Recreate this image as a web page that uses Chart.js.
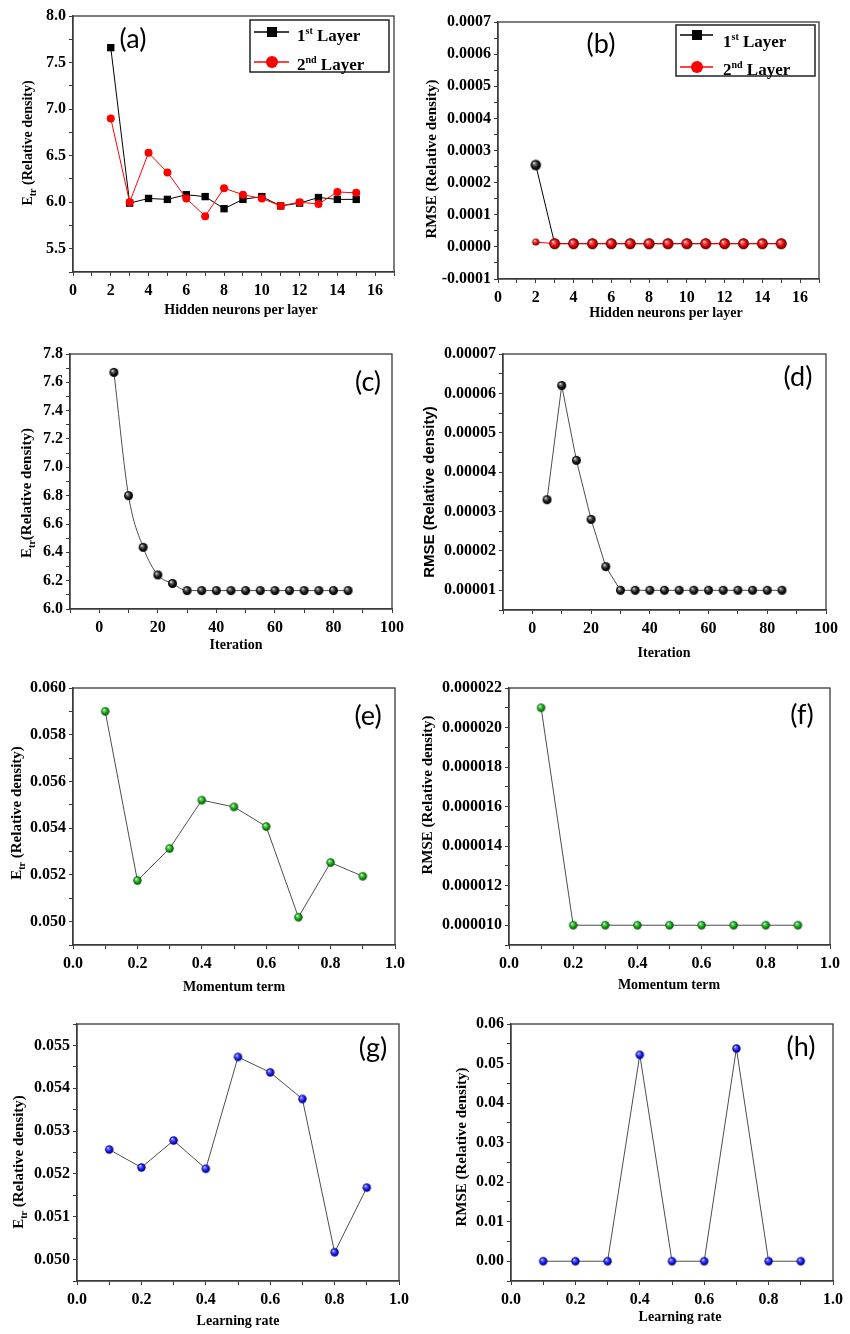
<!DOCTYPE html>
<html><head><meta charset="utf-8">
<script src="https://cdn.jsdelivr.net/npm/chart.js@4.4.1/dist/chart.umd.min.js"></script>
<style>
html,body{margin:0;padding:0;background:#fff;}
body{width:850px;height:1334px;position:relative;overflow:hidden;}
canvas{position:absolute;}
</style></head><body>
<script>
// ---------------- data ----------------
const hiddenNeurons = [2,3,4,5,6,7,8,9,10,11,12,13,14,15];
const layer1Etr = [7.66,5.99,6.04,6.03,6.08,6.06,5.93,6.03,6.06,5.96,5.99,6.05,6.03,6.03];
const layer2Etr = [6.90,6.00,6.53,6.32,6.04,5.85,6.15,6.08,6.04,5.96,6.00,5.98,6.11,6.10];
const layer1Rmse = [0.000255,0.00001,0.00001,0.00001,0.00001,0.00001,0.00001,0.00001,0.00001,0.00001,0.00001,0.00001,0.00001,0.00001];
const layer2Rmse = [0.000015,0.00001,0.00001,0.00001,0.00001,0.00001,0.00001,0.00001,0.00001,0.00001,0.00001,0.00001,0.00001,0.00001];
const iterations = [5,10,15,20,25,30,35,40,45,50,55,60,65,70,75,80,85];
const iterationEtr = [7.67,6.80,6.435,6.24,6.18,6.13,6.13,6.13,6.13,6.13,6.13,6.13,6.13,6.13,6.13,6.13,6.13];
const iterationRmse = [0.000033,0.000062,0.000043,0.000028,0.000016,0.00001,0.00001,0.00001,0.00001,0.00001,0.00001,0.00001,0.00001,0.00001,0.00001,0.00001,0.00001];
const momentumTerms = [0.1,0.2,0.3,0.4,0.5,0.6,0.7,0.8,0.9];
const momentumEtr = [0.0590,0.05176,0.05313,0.0552,0.05491,0.05407,0.05019,0.05253,0.05194];
const momentumRmse = [0.000021,0.00001,0.00001,0.00001,0.00001,0.00001,0.00001,0.00001,0.00001];
const learningRates = [0.1,0.2,0.3,0.4,0.5,0.6,0.7,0.8,0.9];
const learningEtr = [0.05257,0.05215,0.05278,0.05212,0.05473,0.05437,0.05375,0.05017,0.05168];
const learningRmse = [0,0,0,0.0522,0,0,0.0538,0,0];
const layerLabels = ['1st Layer','2nd Layer'];
const panelLetters = ['(a)','(b)','(c)','(d)','(e)','(f)','(g)','(h)'];
const xTitles = ['Hidden neurons per layer','Iteration','Momentum term','Learning rate'];
const etrTitle = [{t:'E'},{t:'tr',sub:true},{t:' (Relative density)'}];
const etrTitleNoSpace = [{t:'E'},{t:'tr',sub:true},{t:'(Relative density)'}];
const rmseTitle = [{t:'RMSE (Relative density)'}];

// ---------------- helpers ----------------
const SERIF = '"Liberation Serif", "Times New Roman", serif';
const SANS = '"Liberation Sans", Arial, sans-serif';
function pts(xs, ys){ return xs.map((x,i)=>({x:x, y:ys[i]})); }
function sphere(base, light, dark, r){
  const s = Math.ceil(2*r+2);
  const c = document.createElement('canvas');
  c.width = s; c.height = s;
  const g = c.getContext('2d');
  const m = s/2;
  const grad = g.createRadialGradient(m - r*0.35, m - r*0.4, r*0.05, m, m, r);
  grad.addColorStop(0, '#ffffff');
  grad.addColorStop(0.22, light);
  grad.addColorStop(0.65, base);
  grad.addColorStop(1, dark);
  g.fillStyle = grad;
  g.beginPath(); g.arc(m, m, r, 0, Math.PI*2); g.fill();
  return c;
}
function makeTicks(min,max,step){
  const out=[]; const a=Math.ceil(min/step-1e-6), b=Math.floor(max/step+1e-6);
  for(let i=a;i<=b;i++) out.push(parseFloat((i*step).toFixed(10)));
  return out;
}
function isMajor(v,major){ const r=v/major; return Math.abs(r-Math.round(r))<1e-6; }
function fmt(v,dec){ let s=v.toFixed(dec); if(/^-0\.?0*$/.test(s)) s=s.slice(1); return s; }

function axis(a, dir, size){
  return {
    type:'linear', min:a.min, max:a.max,
    grid:{display:true, drawOnChartArea:false, drawTicks:true, tickLength:4, tickColor:'#3a3a3a', tickWidth:1},
    border:{display:true, color:'#3a3a3a', width:1.3},
    title:{display:false},
    ticks:{autoSkip:false, maxRotation:0, minRotation:0, padding: dir==='x'?5:3, color:'#000',
      font:{family:SERIF, weight:'bold', size:16},
      callback:(v)=> isMajor(v,a.major) ? fmt(v,a.dec) : ''},
    afterBuildTicks:(s)=>{ s.ticks = makeTicks(a.min,a.max,a.minor).map(v=>({value:v})); },
    afterFit:(s)=>{ if(dir==='x') s.height=size; else s.width=size; }
  };
}
function drawRotParts(ctx, parts, x, y, family, size){
  ctx.save(); ctx.translate(x,y); ctx.rotate(-Math.PI/2);
  ctx.textBaseline='middle'; ctx.textAlign='left'; ctx.fillStyle='#000';
  const f = (s)=> 'bold '+s+'px '+family;
  let total=0;
  parts.forEach(p=>{ ctx.font=f(p.sub?Math.round(size*0.68):size); total+=ctx.measureText(p.t).width; });
  let cx=-total/2;
  parts.forEach(p=>{ ctx.font=f(p.sub?Math.round(size*0.68):size); ctx.fillText(p.t,cx,p.sub?size*0.38:0); cx+=ctx.measureText(p.t).width; });
  ctx.restore();
}
function drawSupText(ctx, label, x, y, size){
  const m = label.match(/^(\d+)(st|nd|rd|th)(.*)$/);
  ctx.textAlign='left'; ctx.textBaseline='alphabetic'; ctx.fillStyle='#000';
  ctx.font = 'bold '+size+'px '+SERIF;
  if(!m){ ctx.fillText(label,x,y); return; }
  ctx.fillText(m[1],x,y); x += ctx.measureText(m[1]).width;
  ctx.font = 'bold '+Math.round(size*0.6)+'px '+SERIF;
  ctx.fillText(m[2], x, y - size*0.42); x += ctx.measureText(m[2]).width;
  ctx.font = 'bold '+size+'px '+SERIF;
  ctx.fillText(m[3], x, y);
}

function makePanel(p){
  const cv = document.createElement('canvas');
  cv.width = p.cw; cv.height = p.ch;
  cv.style.left = p.cx+'px'; cv.style.top = p.cy+'px';
  cv.style.width = p.cw+'px'; cv.style.height = p.ch+'px';
  document.body.appendChild(cv);
  const [L,T,R,B] = p.area;
  const W = L - p.cx, Hx = p.cy + p.ch - B;
  const decor = {
    id:'decor'+p.letter,
    afterDraw(chart){
      const ctx = chart.ctx, ca = chart.chartArea;
      ctx.save();
      ctx.strokeStyle='#3a3a3a'; ctx.lineWidth=1.3;
      ctx.strokeRect(ca.left, ca.top, ca.right-ca.left, ca.bottom-ca.top);
      // panel letter
      ctx.fillStyle='#000'; ctx.font='27px Lato, "Open Sans", sans-serif';
      ctx.textAlign='center'; ctx.textBaseline='middle';
      ctx.fillText(p.letter, p.letterPos[0]-p.cx, p.letterPos[1]-p.cy);
      // x title
      ctx.font='bold 14px '+SERIF;
      ctx.fillText(p.xTitle, p.xTitlePos[0]-p.cx, p.xTitlePos[1]-p.cy);
      // y title
      drawRotParts(ctx, p.yTitle, p.yTitlePos[0]-p.cx, p.yTitlePos[1]-p.cy, p.yFont||SERIF, p.ySize||15);
      // legend
      if(p.legend){
        const lg = p.legend;
        const bx1=lg.box[0]-p.cx, by1=lg.box[1]-p.cy, bx2=lg.box[2]-p.cx, by2=lg.box[3]-p.cy;
        ctx.fillStyle='#fff'; ctx.fillRect(bx1,by1,bx2-bx1,by2-by1);
        ctx.strokeStyle='#222'; ctx.lineWidth=1.5; ctx.strokeRect(bx1,by1,bx2-bx1,by2-by1);
        chart.data.datasets.forEach((ds,i)=>{
          const ry = lg.rows[i]-p.cy;
          ctx.strokeStyle=ds.borderColor; ctx.lineWidth=1.3;
          ctx.beginPath(); ctx.moveTo(lg.line[0]-p.cx, ry); ctx.lineTo(lg.line[1]-p.cx, ry); ctx.stroke();
          const mx = lg.markerX - p.cx;
          ctx.fillStyle = ds.legendColor;
          if(ds.legendShape==='rect'){ ctx.fillRect(mx-5, ry-5, 10, 10); }
          else { ctx.beginPath(); ctx.arc(mx, ry, 6, 0, Math.PI*2); ctx.fill(); }
          drawSupText(ctx, ds.label, lg.textX - p.cx, ry + lg.dy[i], 17);
        });
      }
      ctx.restore();
    }
  };
  new Chart(cv, {
    type:'scatter',
    data:{datasets:p.datasets},
    options:{
      responsive:false, animation:false, devicePixelRatio:1, events:[],
      layout:{padding:{left:0, top:T-p.cy, right:p.cx+p.cw-R, bottom:0}},
      plugins:{legend:{display:false}, tooltip:{enabled:false}},
      scales:{ x: axis(p.x,'x',Hx), y: axis(p.y,'y',W) }
    },
    plugins:[decor]
  });
}

// marker images
const blackBall = sphere('#111111','#777777','#000000',4.5);
const blackBallBig = sphere('#111111','#777777','#000000',5.2);
const redBallBig = sphere('#e00000','#ff6060','#6a0000',5.2);
const redBallSmall = sphere('#e00000','#ff6060','#6a0000',3.6);
const greenBall = sphere('#119911','#66dd66','#004400',4.2);
const blueBall = sphere('#1010ee','#7070ff','#000066',4.2);
const GRAY = '#4d4d4d';
function ballSet(xs, ys, img, extra){
  return Object.assign({data:pts(xs,ys), showLine:true, borderColor:GRAY, borderWidth:1,
    pointStyle:img, pointRadius:4.5, backgroundColor:GRAY}, extra||{});
}

// (a)
makePanel({letter:panelLetters[0], cx:0, cy:0, cw:420, ch:345, area:[73,16,394,272],
  x:{min:0,max:17,minor:1,major:2,dec:0}, y:{min:5.25,max:8.0,minor:0.25,major:0.5,dec:1},
  xTitle:xTitles[0], xTitlePos:[241,310], yTitle:etrTitle, yTitlePos:[28,143], ySize:14,
  letterPos:[133,39],
  legend:{box:[250,20,389,72], rows:[32,62], line:[254,289], markerX:272, textX:297, dy:[9,8]},
  datasets:[
    {label:layerLabels[0], data:pts(hiddenNeurons,layer1Etr), showLine:true, borderColor:'#000', borderWidth:1,
     pointStyle:'rect', pointRadius:5.2, backgroundColor:'#000', pointBorderWidth:0, order:1, legendColor:'#000', legendShape:'rect'},
    {label:layerLabels[1], data:pts(hiddenNeurons,layer2Etr), showLine:true, borderColor:'#ff0000', borderWidth:1,
     pointStyle:'circle', pointRadius:4, backgroundColor:'#ff0000', pointBorderWidth:0, order:0, legendColor:'#ff0000', legendShape:'circle'}
  ]});

// (b)
makePanel({letter:panelLetters[1], cx:420, cy:0, cw:430, ch:345, area:[498,22,819,279],
  x:{min:0,max:17,minor:1,major:2,dec:0}, y:{min:-0.0001,max:0.0007,minor:0.00005,major:0.0001,dec:4},
  xTitle:xTitles[0], xTitlePos:[666,313], yTitle:rmseTitle, yTitlePos:[432,159],
  letterPos:[601,44],
  legend:{box:[676,25,815,76], rows:[35,67], line:[680,713], markerX:697, textX:723, dy:[12,8]},
  datasets:[
    {label:layerLabels[0], data:pts(hiddenNeurons,layer1Rmse), showLine:true, borderColor:'#000', borderWidth:1,
     pointStyle:blackBallBig, pointRadius:5, backgroundColor:'#000', order:1, legendColor:'#000', legendShape:'rect'},
    {label:layerLabels[1], data:pts(hiddenNeurons,layer2Rmse), showLine:true, borderColor:'#ff0000', borderWidth:1,
     pointStyle:hiddenNeurons.map((v,i)=> i===0 ? redBallSmall : redBallBig), pointRadius:5, backgroundColor:'#ff0000', order:0, legendColor:'#ff0000', legendShape:'circle'}
  ]});

// (c)
makePanel({letter:panelLetters[2], cx:0, cy:330, cw:420, ch:345, area:[70,354,392,609],
  x:{min:-10,max:100,minor:10,major:20,dec:0}, y:{min:6.0,max:7.8,minor:0.1,major:0.2,dec:1},
  xTitle:xTitles[1], xTitlePos:[236,645], yTitle:etrTitleNoSpace, yTitlePos:[27,493],
  letterPos:[368,382],
  datasets:[ ballSet(iterations, iterationEtr, blackBall, {cubicInterpolationMode:'monotone'}) ]});

// (d)
makePanel({letter:panelLetters[3], cx:420, cy:330, cw:430, ch:345, area:[503,354,826,610],
  x:{min:-10,max:100,minor:10,major:20,dec:0}, y:{min:0.000005,max:0.00007,minor:0.000005,major:0.00001,dec:5},
  xTitle:xTitles[1], xTitlePos:[664,653], yTitle:rmseTitle, yTitlePos:[430,492], yFont:SANS,
  letterPos:[798,377],
  datasets:[ ballSet(iterations, iterationRmse, blackBall) ]});

// (e)
makePanel({letter:panelLetters[4], cx:0, cy:660, cw:420, ch:345, area:[73,688,395,945],
  x:{min:0,max:1,minor:0.1,major:0.2,dec:1}, y:{min:0.049,max:0.060,minor:0.001,major:0.002,dec:3},
  xTitle:xTitles[2], xTitlePos:[234,987], yTitle:etrTitle, yTitlePos:[17,813],
  letterPos:[368,716],
  datasets:[ ballSet(momentumTerms, momentumEtr, greenBall) ]});

// (f)
makePanel({letter:panelLetters[5], cx:420, cy:660, cw:430, ch:345, area:[509,688,830,945],
  x:{min:0,max:1,minor:0.1,major:0.2,dec:1}, y:{min:0.000009,max:0.000022,minor:0.000001,major:0.000002,dec:6},
  xTitle:xTitles[2], xTitlePos:[669,985], yTitle:rmseTitle, yTitlePos:[428,795],
  letterPos:[802,715],
  datasets:[ ballSet(momentumTerms, momentumRmse, greenBall) ]});

// (g)
makePanel({letter:panelLetters[6], cx:0, cy:1000, cw:420, ch:334, area:[77,1024,399,1281],
  x:{min:0,max:1,minor:0.1,major:0.2,dec:1}, y:{min:0.0495,max:0.0555,minor:0.0005,major:0.001,dec:3},
  xTitle:xTitles[3], xTitlePos:[238,1321], yTitle:etrTitle, yTitlePos:[19,1162],
  letterPos:[373,1048],
  datasets:[ ballSet(learningRates, learningEtr, blueBall) ]});

// (h)
makePanel({letter:panelLetters[7], cx:420, cy:1000, cw:430, ch:334, area:[511,1024,833,1281],
  x:{min:0,max:1,minor:0.1,major:0.2,dec:1}, y:{min:-0.005,max:0.06,minor:0.005,major:0.01,dec:2},
  xTitle:xTitles[3], xTitlePos:[680,1317], yTitle:rmseTitle, yTitlePos:[462,1147],
  letterPos:[801,1047],
  datasets:[ ballSet(learningRates, learningRmse, blueBall) ]});
</script>
</body></html>
